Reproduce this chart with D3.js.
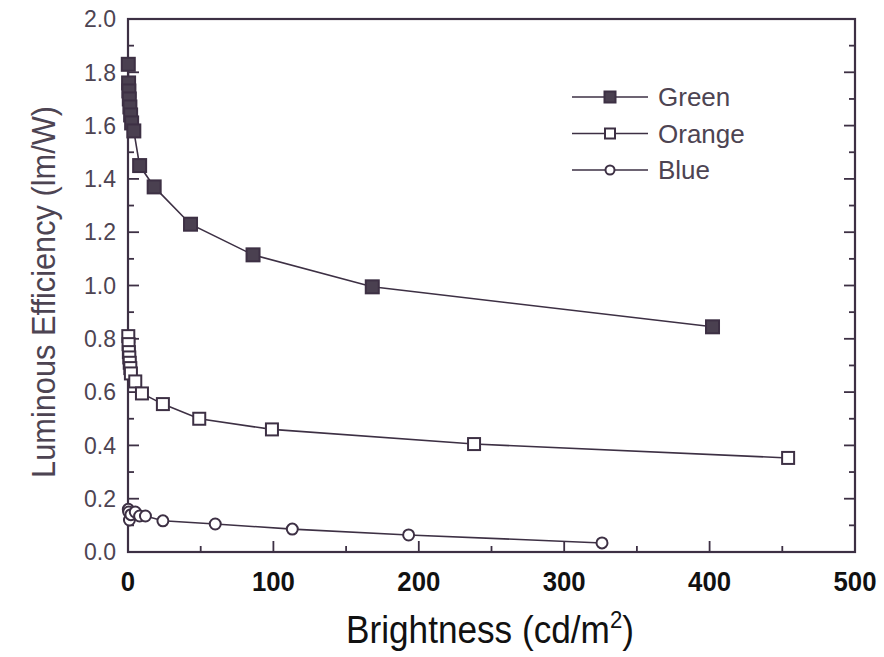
<!DOCTYPE html>
<html>
<head>
<meta charset="utf-8">
<script src="https://cdn.jsdelivr.net/npm/d3@7"></script>
<style>
  body { margin: 0; background: #fff; }
  svg { display: block; }
</style>
</head>
<body>
<svg id="chart" width="884" height="657"></svg>
<script>
'use strict';

// data
const greenX = [0.2, 0.4, 0.6, 0.9, 1.3, 1.8, 2.5, 4, 8, 18, 43, 86, 168, 402];
const greenY = [1.83, 1.76, 1.73, 1.70, 1.67, 1.64, 1.61, 1.58, 1.45, 1.37, 1.23, 1.115, 0.995, 0.845];

const orangeX = [0.2, 0.4, 0.6, 0.9, 1.2, 1.6, 2, 5, 9.6, 24, 49, 99, 238, 454];
const orangeY = [0.81, 0.78, 0.75, 0.73, 0.71, 0.69, 0.67, 0.64, 0.595, 0.555, 0.50, 0.46, 0.405, 0.353];

const blueX = [0.2, 0.5, 1, 2, 5, 8, 12, 24, 60, 113, 193, 326];
const blueY = [0.16, 0.15, 0.12, 0.14, 0.15, 0.135, 0.135, 0.117, 0.105, 0.086, 0.064, 0.034];

const xTicks = [0, 100, 200, 300, 400, 500];
const yTicks = [0, 0.2, 0.4, 0.6, 0.8, 1.0, 1.2, 1.4, 1.6, 1.8, 2.0];

const seriesNames = ['Green', 'Orange', 'Blue'];

const ink = '#3d3044';
const labelInk = '#4d4452';
const sans = 'Liberation Sans, Arial, Helvetica, sans-serif';

const svg = d3.select('#chart');
const margin = { left: 128, top: 19, right: 29, bottom: 105 };
const width = 884 - margin.left - margin.right;
const height = 657 - margin.top - margin.bottom;

const x = d3.scaleLinear().domain([0, 500]).range([0, width]);
const y = d3.scaleLinear().domain([0, 2]).range([height, 0]);

const g = svg.append('g')
  .attr('transform', 'translate(' + margin.left + ',' + margin.top + ')');

// frame
g.append('rect')
  .attr('width', width)
  .attr('height', height)
  .attr('fill', 'none')
  .attr('stroke', ink)
  .attr('stroke-width', 2.2);

// inward ticks on bottom, left and right, minor halfway between majors
function drawTicks() {
  const xMajor = d3.range(0, 501, 100);
  const xMinor = d3.range(50, 500, 100);
  const yMajor = d3.range(0, 2.01, 0.2);
  const yMinor = d3.range(0.1, 2, 0.2);

  const tickG = g.append('g')
    .attr('stroke', ink)
    .attr('stroke-width', 1.8);

  xMajor.forEach(v => {
    tickG.append('line').attr('x1', x(v)).attr('x2', x(v)).attr('y1', height).attr('y2', height - 11);
  });
  xMinor.forEach(v => {
    tickG.append('line').attr('x1', x(v)).attr('x2', x(v)).attr('y1', height).attr('y2', height - 6);
  });
  yMajor.forEach(v => {
    tickG.append('line').attr('x1', 0).attr('x2', 11).attr('y1', y(v)).attr('y2', y(v));
    tickG.append('line').attr('x1', width).attr('x2', width - 11).attr('y1', y(v)).attr('y2', y(v));
  });
  yMinor.forEach(v => {
    tickG.append('line').attr('x1', 0).attr('x2', 6).attr('y1', y(v)).attr('y2', y(v));
    tickG.append('line').attr('x1', width).attr('x2', width - 6).attr('y1', y(v)).attr('y2', y(v));
  });
}
drawTicks();

// tick labels
g.append('g')
  .selectAll('text')
  .data(yTicks)
  .join('text')
  .attr('x', -12)
  .attr('y', d => y(d))
  .attr('dy', '0.36em')
  .attr('text-anchor', 'end')
  .attr('font-family', sans)
  .attr('font-size', 23)
  .attr('fill', labelInk)
  .text(d => d.toFixed(1));

// bold, squeezed numbers under the x axis
g.append('g')
  .selectAll('text')
  .data(xTicks)
  .join('text')
  .attr('transform', d => 'translate(' + x(d) + ',' + (height + 39) + ') scale(0.92,1)')
  .attr('text-anchor', 'middle')
  .attr('font-family', sans)
  .attr('font-weight', 'bold')
  .attr('font-size', 28)
  .attr('fill', '#111')
  .text(d => d);

// squeeze a text along its run so that it is `len` px long
function fitLength(sel, cx, cy, rot, len) {
  const w = sel.node().getComputedTextLength();
  const k = w > 0 ? len / w : 1;
  sel.attr('transform', 'translate(' + cx + ',' + cy + ') rotate(' + rot + ') scale(' + k + ',1)');
}

// axis titles
const xTitle = svg.append('text')
  .attr('text-anchor', 'middle')
  .attr('font-family', sans)
  .attr('font-size', 38)
  .attr('fill', '#111');
xTitle.append('tspan').text('Brightness (cd/m');
xTitle.append('tspan').attr('dy', -15).attr('font-size', 24).text('2');
xTitle.append('tspan').attr('dy', 15).text(')');
fitLength(xTitle, 490, 643, 0, 288);

const yTitle = svg.append('text')
  .attr('text-anchor', 'middle')
  .attr('font-family', sans)
  .attr('font-size', 34)
  .attr('fill', labelInk)
  .text('Luminous Efficiency (lm/W)');
fitLength(yTitle, 55, 292, -90, 372);

// series
const line = d3.line().x(d => x(d[0])).y(d => y(d[1]));

const series = [
  { name: seriesNames[0], pts: d3.zip(greenX, greenY), shape: 'square', fill: '#4a4050', size: 13 },
  { name: seriesNames[1], pts: d3.zip(orangeX, orangeY), shape: 'square', fill: '#fff', size: 12 },
  { name: seriesNames[2], pts: d3.zip(blueX, blueY), shape: 'circle', fill: '#fff', size: 11 }
];

function drawMarker(sel, s, cx, cy, size) {
  if (s.shape === 'square') {
    sel.append('rect')
      .attr('x', cx - size / 2)
      .attr('y', cy - size / 2)
      .attr('width', size)
      .attr('height', size)
      .attr('fill', s.fill)
      .attr('stroke', ink)
      .attr('stroke-width', 2);
  } else {
    sel.append('circle')
      .attr('cx', cx)
      .attr('cy', cy)
      .attr('r', size / 2)
      .attr('fill', s.fill)
      .attr('stroke', ink)
      .attr('stroke-width', 2);
  }
}

series.forEach(s => {
  g.append('path')
    .datum(s.pts)
    .attr('d', line)
    .attr('fill', 'none')
    .attr('stroke', ink)
    .attr('stroke-width', 1.6);
  const mg = g.append('g');
  s.pts.forEach(p => drawMarker(mg, s, x(p[0]), y(p[1]), s.size));
});

// legend
const legend = svg.append('g');
const legendSizes = [11, 10, 9];
series.forEach((s, i) => {
  const ly = 97 + i * 36.5;
  legend.append('line')
    .attr('x1', 572).attr('x2', 648)
    .attr('y1', ly).attr('y2', ly)
    .attr('stroke', ink)
    .attr('stroke-width', 1.6);
  drawMarker(legend, s, 610, ly, legendSizes[i]);
  legend.append('text')
    .attr('x', 658)
    .attr('y', ly)
    .attr('dy', '0.36em')
    .attr('font-family', sans)
    .attr('font-size', 26)
    .attr('fill', labelInk)
    .text(s.name);
});
</script>
</body>
</html>
